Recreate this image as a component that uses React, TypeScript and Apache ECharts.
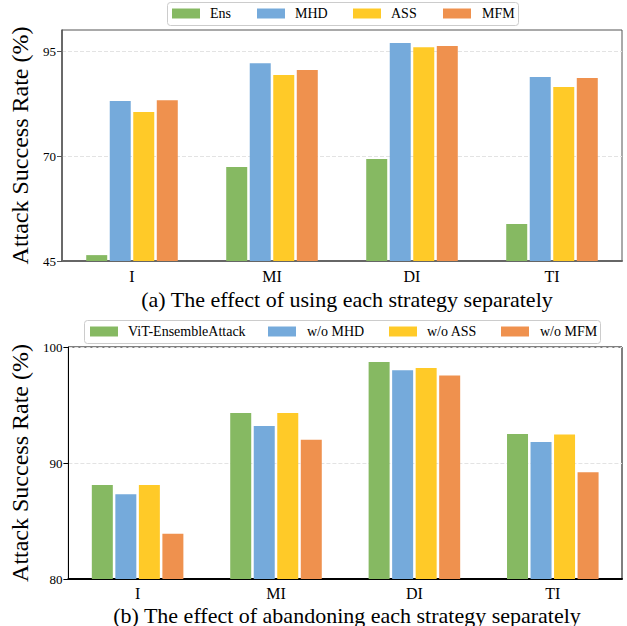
import React, { useEffect, useRef } from "react";
import * as echarts from "echarts";

const categories = ["I", "MI", "DI", "TI"];

const namesA = ["Ens", "MHD", "ASS", "MFM"];
const ensA = [46.4, 67.4, 69.3, 53.8];
const mhdA = [83.1, 92.1, 96.9, 88.8];
const assA = [80.5, 89.3, 95.9, 86.4];
const mfmA = [83.3, 90.5, 96.2, 88.6];
const yTicksA = [45, 70, 95];

const namesB = ["ViT-EnsembleAttack", "w/o MHD", "w/o ASS", "w/o MFM"];
const vitB = [88.1, 94.3, 98.7, 92.5];
const woMhdB = [87.3, 93.2, 98.0, 91.8];
const woAssB = [88.1, 94.3, 98.2, 92.45];
const woMfmB = [83.9, 92.0, 97.55, 89.2];

const colors = ["#86B962", "#75AADB", "#FFCA28", "#EF914E"];
const FONT = "Liberation Serif";

export default function App() {
  const ref = useRef<HTMLDivElement>(null);
  useEffect(() => {
    const chart = echarts.init(ref.current!, undefined, { renderer: "svg" });
    const dataA = [ensA, mhdA, assA, mfmA];
    const dataB = [vitB, woMhdB, woAssB, woMfmB];
    const mkSeries = (names: string[], data: number[][], idx: number) =>
      names.map((n, i) => ({
        type: "bar",
        name: n,
        xAxisIndex: idx,
        yAxisIndex: idx,
        data: data[i],
        barWidth: 21,
        barGap: "12%",
        itemStyle: { color: colors[i] },
      }));
    // legend drawn as graphic (box, swatches, labels)
    const legendGraphic = (
      names: string[],
      box: number[],
      swX: number[],
      txX: number[]
    ) => {
      const cy = box[1] + box[3] / 2;
      return [
        {
          type: "rect",
          shape: { x: box[0] + 0.5, y: box[1] + 0.5, width: box[2], height: box[3], r: 3 },
          style: { fill: "#fff", stroke: "#cccccc", lineWidth: 1 },
          z: 10,
        },
        ...names.map((n, i) => ({
          type: "rect",
          shape: { x: swX[i], y: cy - 5, width: 28, height: 10 },
          style: { fill: colors[i] },
          z: 11,
        })),
        ...names.map((n, i) => ({
          type: "text",
          x: txX[i],
          y: cy,
          style: {
            text: n,
            fontFamily: FONT,
            fontSize: 14,
            fill: "#000",
            verticalAlign: "middle",
            align: "left",
          },
          z: 11,
        })),
      ];
    };
    const xAxisCommon = (idx: number, color: string, margin: number) => ({
      type: "category",
      gridIndex: idx,
      data: categories,
      axisLine: { lineStyle: { color, width: 2 } },
      axisTick: { alignWithLabel: true, length: 4, lineStyle: { color } },
      axisLabel: { fontFamily: FONT, fontSize: 16, color: "#000", margin },
    });
    const yName = "Attack Success Rate (%)";
    const option = {
      animation: false,
      textStyle: { fontFamily: FONT },
      title: [
        {
          text: "(a) The effect of using each strategy separately",
          left: 342,
          top: 283,
          textAlign: "center",
          textStyle: { fontFamily: FONT, fontSize: 22, fontWeight: "normal", color: "#000" },
        },
        {
          text: "(b) The effect of abandoning each strategy separately",
          left: 342,
          top: 599,
          textAlign: "center",
          textStyle: { fontFamily: FONT, fontSize: 22, fontWeight: "normal", color: "#000" },
        },
      ],
      graphic: [
        ...legendGraphic(namesA, [167, 2, 351, 23], [172, 257, 353, 443], [210, 295, 391, 482]),
        ...legendGraphic(namesB, [84, 320, 516, 23], [90, 268, 389, 501], [128, 307, 427, 540]),
      ],
      grid: [
        { left: 62, top: 30, width: 560, height: 231, show: true, borderColor: "#555", borderWidth: 1, backgroundColor: "transparent" },
        { left: 62, top: 347, width: 560, height: 232, show: true, borderColor: "#000", borderWidth: 1, backgroundColor: "transparent" },
      ],
      xAxis: [xAxisCommon(0, "#666", 7), xAxisCommon(1, "#000", 6)],
      yAxis: [
        {
          type: "value",
          gridIndex: 0,
          min: 45,
          max: 100,
          name: yName,
          nameLocation: "middle",
          nameGap: 24,
          nameTextStyle: { fontFamily: FONT, fontSize: 24, color: "#000" },
          axisLine: { show: true, lineStyle: { color: "#555", width: 1.5 } },
          axisTick: { show: true, length: 5, customValues: yTicksA, lineStyle: { color: "#555" } },
          axisLabel: { customValues: yTicksA, fontFamily: FONT, fontSize: 13, color: "#000", margin: 6 },
          splitLine: { show: true, customValues: yTicksA, lineStyle: { color: "#e3e3e3", type: [4, 2] } },
        },
        {
          type: "value",
          gridIndex: 1,
          min: 80,
          max: 100,
          interval: 10,
          name: yName,
          nameLocation: "middle",
          nameGap: 24,
          nameTextStyle: { fontFamily: FONT, fontSize: 24, color: "#000" },
          axisLine: { show: true, lineStyle: { color: "#000", width: 1 } },
          axisTick: { show: true, length: 5, lineStyle: { color: "#000" } },
          axisLabel: { fontFamily: FONT, fontSize: 13, color: "#000", margin: 6 },
          splitLine: { show: true, lineStyle: { color: "#e3e3e3", type: [4, 2] } },
        },
      ],
      series: [...mkSeries(namesA, dataA, 0), ...mkSeries(namesB, dataB, 1)],
    };
    chart.setOption(option as any);
    return () => chart.dispose();
  }, []);
  return (
    <div
      ref={ref}
      style={{ position: "fixed", left: 0, top: 0, width: 627, height: 626, background: "#fff" }}
    />
  );
}
